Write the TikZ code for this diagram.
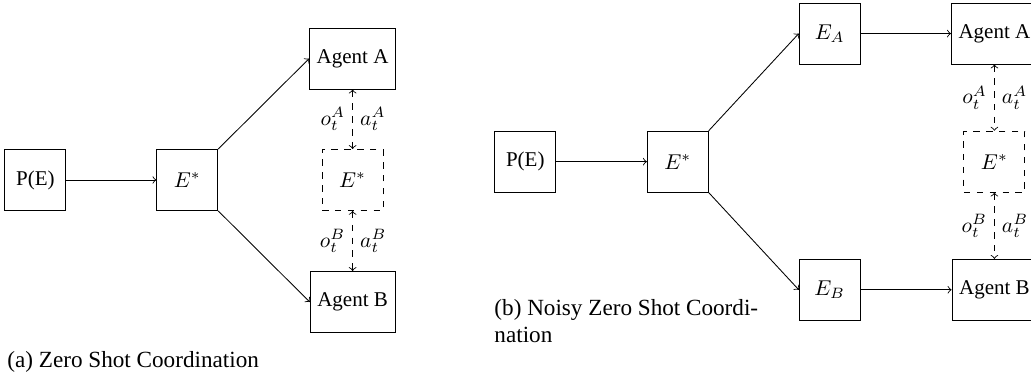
\documentclass[tikz,border=0pt]{standalone}
\usepackage{fontspec}
\setmainfont{Liberation Serif}

\begin{document}
\begin{tikzpicture}[font=\fontsize{9.8}{11.8}\selectfont,
        box/.style={draw, minimum width=1cm, minimum height=1cm},
        dbox/.style={box, dashed},
        obs/.style={<->, dashed},
        capt/.style={font=\fontsize{10.8}{12.6}\selectfont, inner sep=0pt, align=left}]
        \useasboundingbox (0,0) rectangle (16.90,-6.18);

        % (a) zero shot coordination
        \node[box] (pe1) at (0.58,-2.95) {P(E)};
        \node[box] (es1) at (3.07,-2.95) {$E^*$};
        \node[box] (aga1) at (5.78,-0.96) {Agent A};
        \node[dbox] (ed1) at (5.78,-2.95) {$E^*$};
        \node[box] (agb1) at (5.78,-4.95) {Agent B};
        \draw[->] (pe1.east) -- (es1.west);
        \draw[->] (es1.north east) -- (aga1.west);
        \draw[->] (es1.south east) -- (agb1.west);
        \draw[obs] (aga1.south) -- node[left] {$o_t^A$} node[right] {$a_t^A$} (ed1.north);
        \draw[obs] (ed1.south) -- node[left] {$o_t^B$} node[right] {$a_t^B$} (agb1.north);
        \node[capt, anchor=base west] (capa) at (0.115,-6.03) {(a) Zero Shot Coordination};

        % (b) noisy zero shot coordination
        \node[box] (pe2) at (8.61,-2.65) {P(E)};
        \node[box] (es2) at (11.11,-2.65) {$E^*$};
        \node[box] (ea2) at (13.60,-0.55) {$E_A$};
        \node[box] (eb2) at (13.60,-4.75) {$E_B$};
        \node[box] (aga2) at (16.30,-0.55) {Agent A};
        \node[dbox] (ed2) at (16.30,-2.65) {$E^*$};
        \node[box] (agb2) at (16.30,-4.75) {Agent B};
        \draw[->] (pe2.east) -- (es2.west);
        \draw[->] (es2.north east) -- (ea2.west);
        \draw[->] (es2.south east) -- (eb2.west);
        \draw[->] (ea2.east) -- (aga2.west);
        \draw[->] (eb2.east) -- (agb2.west);
        \draw[obs] (aga2.south) -- node[left] {$o_t^A$} node[right] {$a_t^A$} (ed2.north);
        \draw[obs] (ed2.south) -- node[left] {$o_t^B$} node[right] {$a_t^B$} (agb2.north);
        \node[capt, anchor=base west] (captb) at (8.098,-5.607) {(b) Noisy Zero Shot Coordi-\\nation};
    \end{tikzpicture}
\end{document}
